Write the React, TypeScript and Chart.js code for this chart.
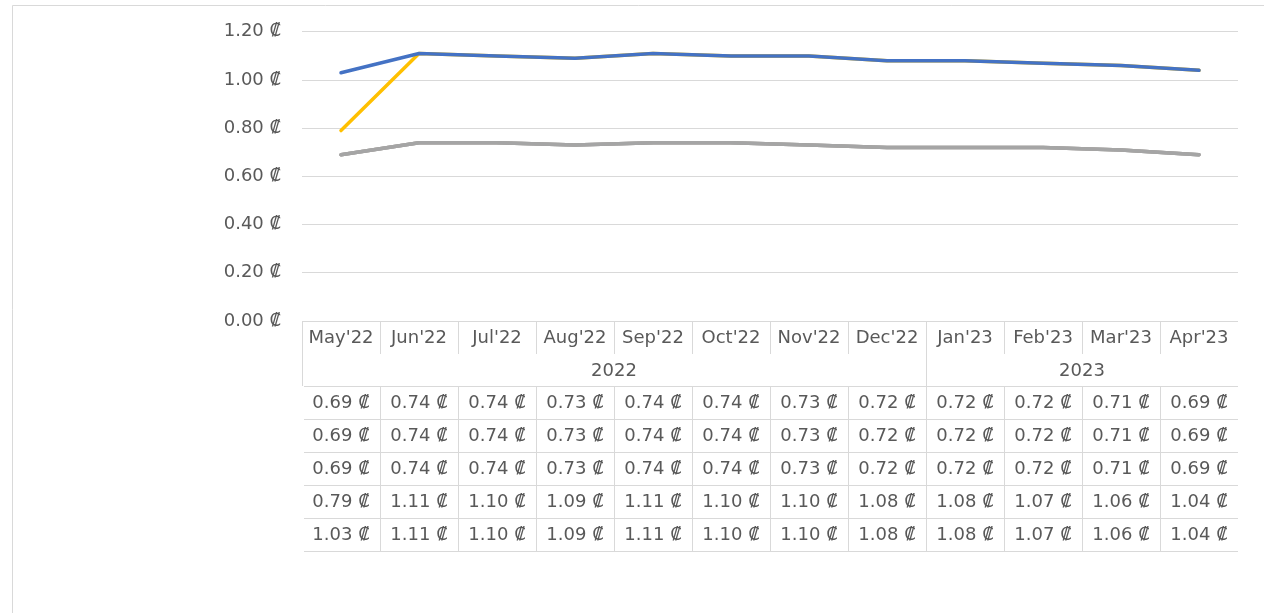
import React, { useEffect, useRef } from 'react';
import { Chart, registerables } from 'chart.js';

Chart.register(...registerables);

const months = ["May'22", "Jun'22", "Jul'22", "Aug'22", "Sep'22", "Oct'22", "Nov'22", "Dec'22", "Jan'23", "Feb'23", "Mar'23", "Apr'23"];
const yearLabels = ['2022', '2023'];
const yearSpans = [8, 4];

const series1 = [0.69, 0.74, 0.74, 0.73, 0.74, 0.74, 0.73, 0.72, 0.72, 0.72, 0.71, 0.69];
const series2 = [0.69, 0.74, 0.74, 0.73, 0.74, 0.74, 0.73, 0.72, 0.72, 0.72, 0.71, 0.69];
const series3 = [0.69, 0.74, 0.74, 0.73, 0.74, 0.74, 0.73, 0.72, 0.72, 0.72, 0.71, 0.69];
const series4 = [0.79, 1.11, 1.10, 1.09, 1.11, 1.10, 1.10, 1.08, 1.08, 1.07, 1.06, 1.04];
const series5 = [1.03, 1.11, 1.10, 1.09, 1.11, 1.10, 1.10, 1.08, 1.08, 1.07, 1.06, 1.04];

const allSeries = [series1, series2, series3, series4, series5];
const seriesColors = ['#A5A5A5', '#A9A4A0', '#A5A5A5', '#FFC000', '#4472C4'];

const yMin = 0;
const yMax = 1.2;
const yStep = 0.2;

const FONT = '"DejaVu Sans", sans-serif';
const TEXT = '#595959';
const LINE = '#D9D9D9';

const fmt = (v: number) => v.toFixed(2) + ' \u20A1';

const framePlugin = {
  id: 'frame',
  beforeDraw(chart: any) {
    const ctx = chart.ctx;
    ctx.save();
    ctx.fillStyle = '#ffffff';
    ctx.fillRect(0, 0, chart.width, chart.height);
    ctx.strokeStyle = LINE;
    ctx.lineWidth = 1;
    ctx.beginPath();
    ctx.moveTo(12.5, chart.height + 2);
    ctx.lineTo(12.5, 5.5);
    ctx.lineTo(chart.width + 2, 5.5);
    ctx.stroke();
    ctx.restore();
  },
};

const tablePlugin = {
  id: 'dataTable',
  afterDraw(chart: any) {
    const { ctx, chartArea } = chart;
    const xs = chart.scales.x;
    const left = chartArea.left;
    const right = chartArea.right;
    const top = chartArea.bottom;
    const monthH = 33;
    const yearH = 32;
    const rowH = 33;
    const n = months.length;
    const centers = months.map((_, i) => xs.getPixelForValue(i));
    const bounds: number[] = [left];
    for (let i = 1; i < n; i++) bounds.push((centers[i - 1] + centers[i]) / 2);
    bounds.push(right);
    const px = (v: number) => Math.round(v) + 0.5;

    const monthBottom = top + monthH;
    const headBottom = monthBottom + yearH;
    const tableBottom = headBottom + rowH * allSeries.length;

    // year boundaries
    const yearBoundIdx: number[] = [];
    let acc = 0;
    yearSpans.forEach((s) => {
      acc += s;
      yearBoundIdx.push(acc);
    });

    ctx.save();
    ctx.strokeStyle = LINE;
    ctx.lineWidth = 1;
    ctx.beginPath();
    // left border of header
    ctx.moveTo(px(left), top);
    ctx.lineTo(px(left), headBottom);
    // month separators
    for (let i = 1; i < n; i++) {
      const isYear = yearBoundIdx.includes(i);
      ctx.moveTo(px(bounds[i]), top);
      ctx.lineTo(px(bounds[i]), isYear ? tableBottom : monthBottom);
      if (!isYear) {
        ctx.moveTo(px(bounds[i]), headBottom);
        ctx.lineTo(px(bounds[i]), tableBottom);
      }
    }
    // horizontal lines
    for (let r = 0; r <= allSeries.length; r++) {
      const y = px(headBottom + r * rowH);
      ctx.moveTo(left + 2, y);
      ctx.lineTo(right, y);
    }
    ctx.stroke();

    ctx.fillStyle = TEXT;
    ctx.font = '18px ' + FONT;
    ctx.textAlign = 'center';
    ctx.textBaseline = 'middle';
    months.forEach((m, i) => {
      ctx.fillText(m, centers[i], top + monthH / 2 + 1);
    });
    let start = 0;
    yearLabels.forEach((yl, k) => {
      const end = start + yearSpans[k];
      const cx = (bounds[start] + bounds[end]) / 2;
      ctx.fillText(yl, cx, monthBottom + yearH / 2 + 1);
      start = end;
    });
    allSeries.forEach((s, r) => {
      const cy = headBottom + r * rowH + rowH / 2 + 1;
      s.forEach((v, i) => {
        ctx.fillText(fmt(v), centers[i], cy);
      });
    });
    ctx.restore();
  },
};

export default function App() {
  const ref = useRef<HTMLCanvasElement | null>(null);

  useEffect(() => {
    if (!ref.current) return;
    const chart = new Chart(ref.current, {
      type: 'line',
      data: {
        labels: months,
        datasets: allSeries.map((s, i) => ({
          label: 'Serie ' + (i + 1),
          data: s,
          borderColor: seriesColors[i],
          backgroundColor: seriesColors[i],
          borderWidth: 3.5,
          pointRadius: 0,
          tension: 0,
          borderCapStyle: 'round' as const,
          borderJoinStyle: 'round' as const,
          order: allSeries.length - i,
          clip: false as any,
        })),
      },
      options: {
        animation: false,
        responsive: false,
        maintainAspectRatio: false,
        devicePixelRatio: 1,
        layout: { padding: { top: 30, right: 26, bottom: 292, left: 0 } },
        plugins: {
          legend: { display: false },
          tooltip: { enabled: false },
        },
        scales: {
          x: {
            type: 'category',
            display: false,
            offset: true,
          },
          y: {
            min: yMin,
            max: yMax,
            afterFit: (scale: any) => {
              scale.width = 302;
            },
            border: { display: false },
            grid: { color: LINE, lineWidth: 1, drawTicks: false },
            ticks: {
              stepSize: yStep,
              padding: 21,
              color: TEXT,
              font: { family: FONT, size: 18 },
              callback: (v: any) => fmt(Number(v)),
            },
          },
        },
      },
      plugins: [framePlugin, tablePlugin],
    });
    return () => chart.destroy();
  }, []);

  return (
    <div style={{ position: 'absolute', left: 0, top: 0, width: 1264, height: 613, background: '#fff' }}>
      <canvas ref={ref} width={1264} height={613} style={{ display: 'block' }} />
    </div>
  );
}
